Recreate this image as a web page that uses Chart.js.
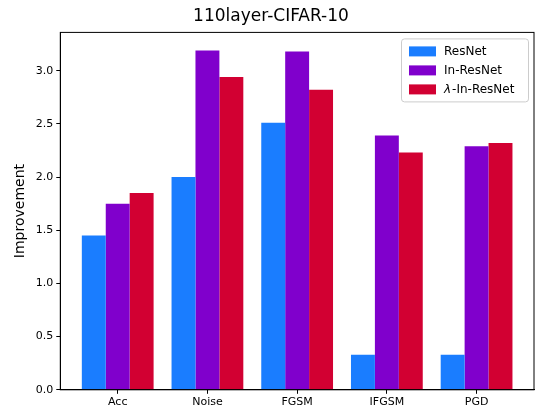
<!DOCTYPE html><html><head><script src="https://cdn.jsdelivr.net/npm/chart.js"></script>
<style>body{margin:0;background:#fff}#w{width:535px;height:410px}</style></head><body><div id="w"><canvas id="c"></canvas></div>
<script>
const categories=["Acc","Noise","FGSM","IFGSM","PGD"];
const resnet=[1.45,2.00,2.51,0.33,0.33];
const inResnet=[1.75,3.19,3.18,2.39,2.29];
const lambdaResnet=[1.85,2.94,2.82,2.23,2.32];
const seriesNames=["ResNet","In-ResNet","λ-In-ResNet"];
const colors=["#1a7dff","#8000cc","#d20032"];
const F="DejaVu Sans";
const legendPlugin={id:"lg",afterDraw(ch){const c=ch.ctx,a=ch.chartArea;const x0=a.right-133,y0=a.top+6,w=127,h=63;
c.save();c.fillStyle="rgba(255,255,255,0.8)";c.strokeStyle="#ccc";c.lineWidth=1;c.beginPath();c.roundRect(x0+.5,y0+.5,w,h,3);c.fill();c.stroke();
c.font="12px "+F;c.textBaseline="middle";
seriesNames.forEach((n,i)=>{const y=y0+12+i*19;c.fillStyle=colors[i];c.fillRect(x0+8,y-4,27,10);c.fillStyle="#000";
if(i==2){c.font="italic 12px "+F;c.fillText("λ",x0+43,y+1);c.font="12px "+F;c.fillText("-In-ResNet",x0+43+c.measureText("λ").width+1,y+1);}else c.fillText(n,x0+43,y+1);});
c.restore();}};
new Chart(document.getElementById("c"),{type:"bar",data:{datasets:[resnet,inResnet,lambdaResnet].map((d,i)=>({label:seriesNames[i],data:d.map((v,j)=>({x:j,y:v})),backgroundColor:colors[i],barPercentage:1,categoryPercentage:0.8}))},
options:{responsive:true,maintainAspectRatio:false,animation:false,layout:{padding:{left:8,right:1,top:0,bottom:-1}},
plugins:{legend:{display:false},tooltip:{enabled:false},title:{display:true,text:"110layer-CIFAR-10",color:"#000",font:{family:F,size:17,weight:"normal"},padding:{top:6,bottom:6}}},
scales:{x:{type:"linear",offset:false,min:-0.64,max:4.64,grid:{display:true,offset:false,drawOnChartArea:false,tickLength:4,color:"#000"},border:{color:"#000"},afterBuildTicks(s){s.ticks=[0,1,2,3,4].map(v=>({value:v}));},ticks:{color:"#000",padding:2,font:{family:F,size:11},callback:v=>categories[v]}},
y:{min:0,max:3.36,grid:{display:true,drawOnChartArea:false,tickLength:4,color:"#000"},border:{color:"#000"},afterBuildTicks(s){s.ticks=[0,0.5,1,1.5,2,2.5,3].map(v=>({value:v}));},ticks:{color:"#000",font:{family:F,size:11},callback:v=>v.toFixed(1)},title:{display:true,text:"Improvement",color:"#000",font:{family:F,size:14}}}}},
plugins:[legendPlugin,{id:"frame",afterDraw(ch){const c=ch.ctx,a=ch.chartArea;c.save();c.strokeStyle="#000";c.lineWidth=1;c.strokeRect(a.left,a.top,a.right-a.left,a.bottom-a.top);c.restore();}}]});
</script></body></html>
